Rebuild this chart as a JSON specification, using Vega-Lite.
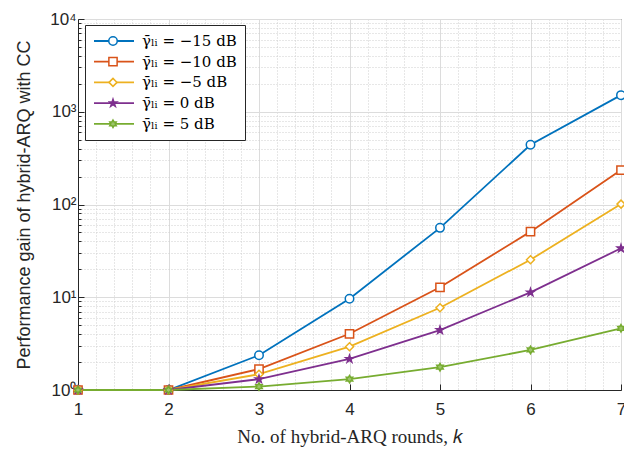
{
  "$schema": "https://vega.github.io/schema/vega-lite/v6.json",
  "width": 543,
  "height": 371,
  "autosize": {"type": "none"},
  "padding": {"left": 78, "top": 19, "right": 3, "bottom": 61},
  "background": "white",
  "config": {"view": {"stroke": "#262626", "strokeWidth": 1}},
  "data": {
    "values": [
      {"k": 1, "gain": 1, "series": "γ̄ₗᵢ = −15 dB", "m": "s1"},
      {"k": 2, "gain": 1, "series": "γ̄ₗᵢ = −15 dB", "m": "s1"},
      {"k": 3, "gain": 2.37, "series": "γ̄ₗᵢ = −15 dB", "m": "s1"},
      {"k": 4, "gain": 9.65, "series": "γ̄ₗᵢ = −15 dB", "m": "s1"},
      {"k": 5, "gain": 56, "series": "γ̄ₗᵢ = −15 dB", "m": "s1"},
      {"k": 6, "gain": 440, "series": "γ̄ₗᵢ = −15 dB", "m": "s1"},
      {"k": 7, "gain": 1510, "series": "γ̄ₗᵢ = −15 dB", "m": "s1"},
      {"k": 1, "gain": 1, "series": "γ̄ₗᵢ = −10 dB", "m": "s2"},
      {"k": 2, "gain": 1, "series": "γ̄ₗᵢ = −10 dB", "m": "s2"},
      {"k": 3, "gain": 1.68, "series": "γ̄ₗᵢ = −10 dB", "m": "s2"},
      {"k": 4, "gain": 4.04, "series": "γ̄ₗᵢ = −10 dB", "m": "s2"},
      {"k": 5, "gain": 12.8, "series": "γ̄ₗᵢ = −10 dB", "m": "s2"},
      {"k": 6, "gain": 51, "series": "γ̄ₗᵢ = −10 dB", "m": "s2"},
      {"k": 7, "gain": 235, "series": "γ̄ₗᵢ = −10 dB", "m": "s2"},
      {"k": 1, "gain": 1, "series": "γ̄ₗᵢ = −5 dB", "m": "s3"},
      {"k": 2, "gain": 1, "series": "γ̄ₗᵢ = −5 dB", "m": "s3"},
      {"k": 3, "gain": 1.48, "series": "γ̄ₗᵢ = −5 dB", "m": "s3"},
      {"k": 4, "gain": 2.93, "series": "γ̄ₗᵢ = −5 dB", "m": "s3"},
      {"k": 5, "gain": 7.7, "series": "γ̄ₗᵢ = −5 dB", "m": "s3"},
      {"k": 6, "gain": 25.4, "series": "γ̄ₗᵢ = −5 dB", "m": "s3"},
      {"k": 7, "gain": 101, "series": "γ̄ₗᵢ = −5 dB", "m": "s3"},
      {"k": 1, "gain": 1, "series": "γ̄ₗᵢ = 0 dB", "m": "s4"},
      {"k": 2, "gain": 1, "series": "γ̄ₗᵢ = 0 dB", "m": "s4"},
      {"k": 3, "gain": 1.31, "series": "γ̄ₗᵢ = 0 dB", "m": "s4"},
      {"k": 4, "gain": 2.16, "series": "γ̄ₗᵢ = 0 dB", "m": "s4"},
      {"k": 5, "gain": 4.43, "series": "γ̄ₗᵢ = 0 dB", "m": "s4"},
      {"k": 6, "gain": 11.3, "series": "γ̄ₗᵢ = 0 dB", "m": "s4"},
      {"k": 7, "gain": 33.7, "series": "γ̄ₗᵢ = 0 dB", "m": "s4"},
      {"k": 1, "gain": 1, "series": "γ̄ₗᵢ = 5 dB", "m": "s5"},
      {"k": 2, "gain": 1, "series": "γ̄ₗᵢ = 5 dB", "m": "s5"},
      {"k": 3, "gain": 1.09, "series": "γ̄ₗᵢ = 5 dB", "m": "s5"},
      {"k": 4, "gain": 1.31, "series": "γ̄ₗᵢ = 5 dB", "m": "s5"},
      {"k": 5, "gain": 1.76, "series": "γ̄ₗᵢ = 5 dB", "m": "s5"},
      {"k": 6, "gain": 2.7, "series": "γ̄ₗᵢ = 5 dB", "m": "s5"},
      {"k": 7, "gain": 4.63, "series": "γ̄ₗᵢ = 5 dB", "m": "s5"}
    ]
  },
  "encoding": {
    "x": {
      "field": "k", "type": "quantitative",
      "scale": {"domain": [1, 7], "nice": false, "zero": false},
      "axis": {
        "orient": "bottom",
        "values": [1, 1.2, 1.4, 1.6, 1.8, 2, 2.2, 2.4, 2.6, 2.8, 3, 3.2, 3.4, 3.6, 3.8, 4, 4.2, 4.4, 4.6, 4.8, 5, 5.2, 5.4, 5.6, 5.8, 6, 6.2, 6.4, 6.6, 6.8, 7],
        "labelExpr": "datum.value % 1 === 0 ? format(datum.value, 'd') : ''",
        "labelOverlap": false,
        "labelFlush": false,
        "labelBound": false,
        "labelFont": "Liberation Sans",
        "labelFontSize": 17,
        "labelColor": "#262626",
        "labelPadding": 17,
        "tickSize": {"condition": {"test": "datum.value % 1 === 0", "value": -6}, "value": 0},
        "tickColor": "#262626",
        "domainColor": "#262626",
        "grid": true,
        "gridColor": {"condition": {"test": "datum.value % 1 === 0", "value": "#dcdcdc"}, "value": "#cfcfcf"},
        "gridDash": {"condition": {"test": "datum.value % 1 === 0", "value": []}, "value": [1, 2]},
        "title": "No. of hybrid-ARQ rounds, 𝑘",
        "titleFont": "Liberation Serif",
        "titleFontSize": 19,
        "titleFontWeight": "normal",
        "titleColor": "#262626",
        "titlePadding": 4
      }
    },
    "y": {
      "field": "gain", "type": "quantitative",
      "scale": {"type": "log", "domain": [1, 10000], "nice": false},
      "axis": {
        "orient": "left",
        "values": [1, 2, 3, 4, 5, 6, 7, 8, 9, 10, 20, 30, 40, 50, 60, 70, 80, 90, 100, 200, 300, 400, 500, 600, 700, 800, 900, 1000, 2000, 3000, 4000, 5000, 6000, 7000, 8000, 9000, 10000],
        "labelExpr": "indexof([1,10,100,1000,10000], datum.value) >= 0 ? '10' + ['⁰','¹','²','³','⁴'][round(log(datum.value)/LN10)] : ''",
        "labelOverlap": false,
        "labelFlush": false,
        "labelFont": "Liberation Sans",
        "labelFontSize": 17,
        "labelColor": "#262626",
        "labelPadding": 8,
        "tickSize": {"condition": {"test": "indexof([1,10,100,1000,10000], datum.value) >= 0", "value": -6}, "value": -3},
        "tickColor": "#262626",
        "domainColor": "#262626",
        "grid": true,
        "gridColor": {"condition": {"test": "indexof([1,10,100,1000,10000], datum.value) >= 0", "value": "#dcdcdc"}, "value": "#cfcfcf"},
        "gridDash": {"condition": {"test": "indexof([1,10,100,1000,10000], datum.value) >= 0", "value": []}, "value": [1, 2]},
        "title": "Performance gain of hybrid-ARQ with CC",
        "titleFont": "Liberation Sans",
        "titleFontSize": 18,
        "titleFontWeight": "normal",
        "titleColor": "#262626",
        "titlePadding": 16
      }
    }
  },
  "layer": [
    {
      "mark": {"type": "line", "strokeWidth": 1.8},
      "encoding": {
        "color": {
          "field": "series", "type": "nominal",
          "scale": {
            "domain": ["γ̄ₗᵢ = −15 dB", "γ̄ₗᵢ = −10 dB", "γ̄ₗᵢ = −5 dB", "γ̄ₗᵢ = 0 dB", "γ̄ₗᵢ = 5 dB"],
            "range": ["#0072BD", "#D95319", "#EDB120", "#7E2F8E", "#77AC30"]
          },
          "legend": {
            "orient": "none", "legendX": 7, "legendY": 6, "title": null,
            "symbolType": "stroke", "symbolSize": 1600, "symbolStrokeWidth": 1.8,
            "labelFont": "DejaVu Serif", "labelFontSize": 15, "labelColor": "black",
            "labelOffset": 7, "fillColor": "white", "strokeColor": "#262626",
            "padding": 8, "rowPadding": 4.7, "clipHeight": 16, "zindex": 1
          }
        }
      }
    },
    {
      "mark": {"type": "point", "strokeWidth": 1.5, "opacity": 1},
      "encoding": {
        "stroke": {
          "field": "m", "type": "nominal",
          "scale": {"domain": ["s1", "s2", "s3", "s4", "s5"], "range": ["#0072BD", "#D95319", "#EDB120", "#7E2F8E", "#77AC30"]},
          "legend": {
            "orient": "none", "legendX": 22, "legendY": 6, "title": null,
            "symbolStrokeWidth": 1.5,
            "labelExpr": "''",
            "padding": 8, "rowPadding": 4.7, "clipHeight": 16, "zindex": 2
          }
        },
        "shape": {
          "field": "m", "type": "nominal",
          "scale": {"domain": ["s1", "s2", "s3", "s4", "s5"], "range": ["circle", "square", "diamond", "M0,-1L0.225,-0.309L0.951,-0.309L0.363,0.118L0.588,0.809L0,0.382L-0.588,0.809L-0.363,0.118L-0.951,-0.309L-0.225,-0.309Z", "M0,-1L0.289,-0.5L0.866,-0.5L0.577,0L0.866,0.5L0.289,0.5L0,1L-0.289,0.5L-0.866,0.5L-0.577,0L-0.866,-0.5L-0.289,-0.5Z"]}
        },
        "size": {
          "field": "m", "type": "nominal",
          "scale": {"domain": ["s1", "s2", "s3", "s4", "s5"], "range": [72, 56, 72, 130, 100]}
        },
        "fill": {
          "field": "m", "type": "nominal",
          "scale": {"domain": ["s1", "s2", "s3", "s4", "s5"], "range": ["white", "white", "white", "#7E2F8E", "#9cc46a"]}
        }
      }
    }
  ]
}
